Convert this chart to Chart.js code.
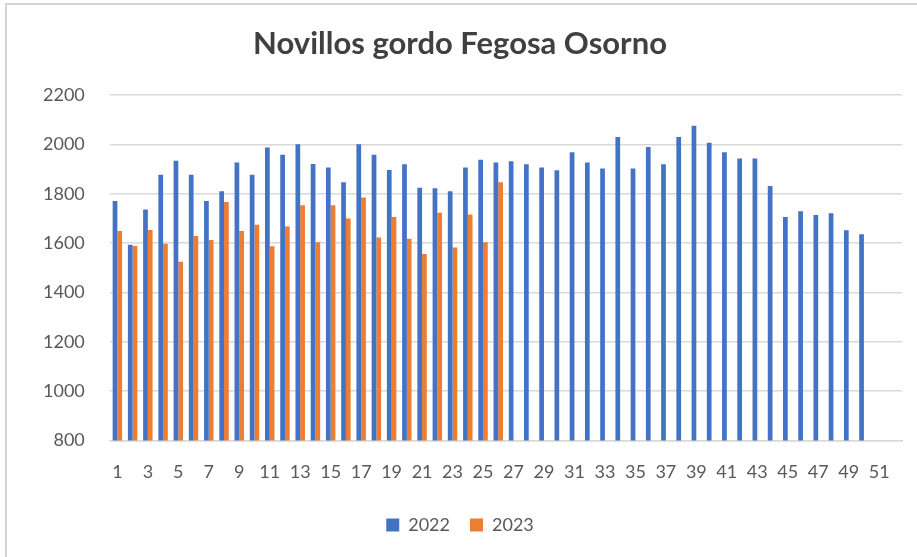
<!DOCTYPE html>
<html>
<head>
<meta charset="utf-8">
<script src="https://cdn.jsdelivr.net/npm/chart.js@4"></script>
<style>
  html, body { margin: 0; padding: 0; background: #fff; overflow: hidden; }
  #frame { position: absolute; left: 5px; top: 3px; width: 1000px; height: 700px; border-top: 2px solid #d4d4d4; border-left: 2px solid #d4d4d4; }
  #wrap { position: absolute; left: 0; top: 0; width: 917px; height: 557px; }
</style>
</head>
<body>
<div id="frame"></div>
<div id="wrap"><canvas id="chart"></canvas></div>
<script>
// weeks 1..52
const weeks = [];
for (let i = 1; i <= 52; i++) weeks.push(String(i));

// Precio 2022 (weeks 1-50)
const values2022 = [
  1771, 1593, 1736, 1877, 1934, 1877, 1771, 1810, 1927, 1877,
  1988, 1958, 2001, 1921, 1907, 1847, 2001, 1958, 1897, 1920,
  1825, 1823, 1810, 1907, 1938, 1927, 1932, 1920, 1907, 1896,
  1969, 1927, 1903, 2030, 1903, 1990, 1920, 2030, 2076, 2007,
  1969, 1943, 1943, 1832, 1706, 1729, 1714, 1721, 1652, 1636
];

// Precio 2023 (weeks 1-26)
const values2023 = [
  1649, 1588, 1653, 1598, 1525, 1629, 1613, 1767, 1649, 1675,
  1587, 1667, 1754, 1604, 1754, 1700, 1785, 1623, 1706, 1618,
  1556, 1723, 1582, 1716, 1604, 1847
];

const yTicks = [800, 1000, 1200, 1400, 1600, 1800, 2000, 2200];

const fontFamily = 'Lato, "Open Sans", sans-serif';
const textColor = '#595959';

new Chart(document.getElementById('chart'), {
  type: 'bar',
  data: {
    labels: weeks,
    datasets: [
      { label: '2022', data: values2022, backgroundColor: '#4472C4' },
      { label: '2023', data: values2023, backgroundColor: '#ED7D31' }
    ]
  },
  options: {
    responsive: true,
    maintainAspectRatio: false,
    animation: false,
    layout: { padding: { left: 18, right: 15, top: 0, bottom: 13 } },
    datasets: { bar: { categoryPercentage: 0.62, barPercentage: 1.0 } },
    scales: {
      x: {
        grid: { display: false },
        border: { color: '#d9d9d9', width: 1.5 },
        ticks: {
          autoSkip: false,
          maxRotation: 0,
          color: textColor,
          font: { family: fontFamily, size: 18 },
          padding: 13,
          callback: function(v, i) { return i % 2 === 0 ? weeks[i] : ''; }
        }
      },
      y: {
        min: 800,
        max: 2200,
        afterBuildTicks: function(axis) { axis.ticks = yTicks.map(v => ({ value: v })); },
        grid: { color: '#d9d9d9', lineWidth: 1.5, drawTicks: false },
        border: { display: false },
        ticks: {
          color: textColor,
          font: { family: fontFamily, size: 18 },
          padding: 25,
          callback: function(v) { return String(v); }
        }
      }
    },
    plugins: {
      title: {
        display: true,
        text: 'Novillos gordo Fegosa Osorno',
        color: '#404040',
        font: { family: fontFamily, size: 31, weight: 'bold' },
        padding: { top: 25, bottom: 33 }
      },
      legend: {
        position: 'bottom',
        labels: {
          color: textColor,
          font: { family: fontFamily, size: 18 },
          boxWidth: 13,
          boxHeight: 13,
          padding: 20
        }
      },
      tooltip: { enabled: false }
    }
  }
});
</script>
</body>
</html>
